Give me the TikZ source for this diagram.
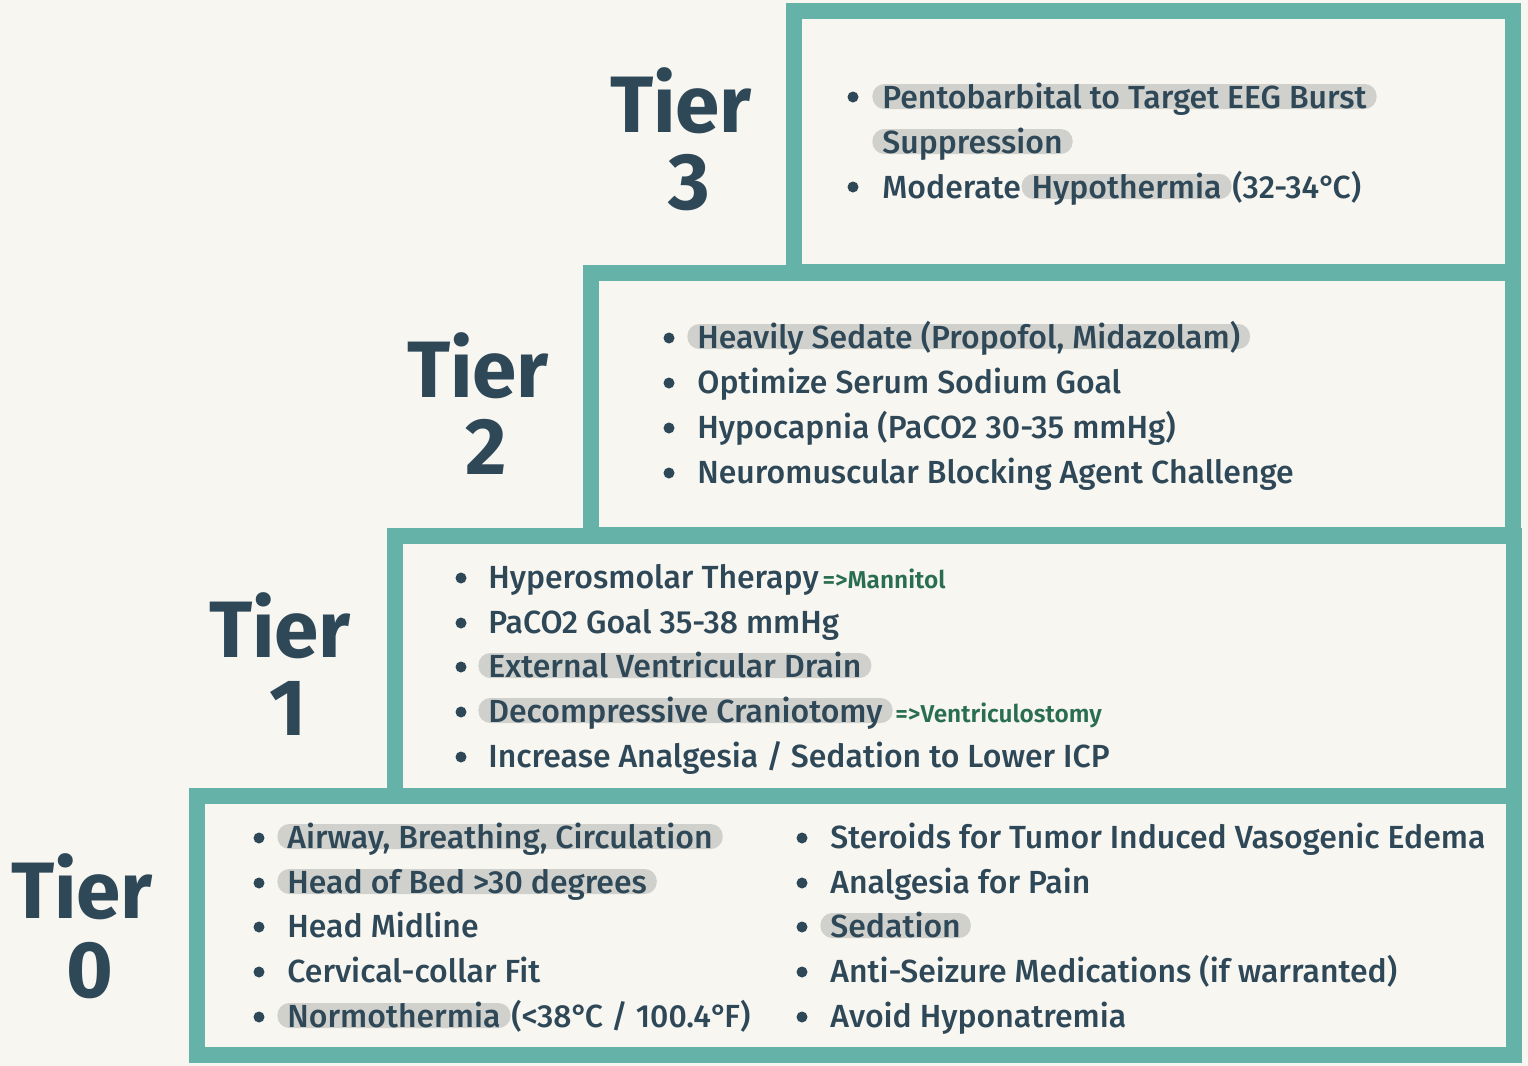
\documentclass[tikz,border=0pt]{standalone}
\usepackage{fontspec}
\setmainfont{Fira Sans}[UprightFont={* Medium}, BoldFont={* SemiBold}]
\newfontfamily\tierfont{Fira Sans}[UprightFont={* Bold}]
\usetikzlibrary{positioning}
\definecolor{tiercol}{RGB}{100,178,168}
\definecolor{inkcol}{RGB}{47,72,88}
\definecolor{papercol}{RGB}{247,246,241}
\definecolor{hlcol}{RGB}{208,208,204}
\definecolor{notecol}{RGB}{42,110,80}
\newcommand{\degr}{°\kern-1.6pt}

\begin{document}
\begin{tikzpicture}[
  x=0.5pt, y=-0.5pt,
  %% stepped tier frames
  tb/.style={draw=tiercol, line width=8pt},
  %% big tier labels
  tl/.style={font=\tierfont\fontsize{40}{40}\selectfont, text=inkcol,
    anchor=base, inner sep=0pt},
  %% list item text
  it/.style={font=\fontsize{16}{19}\selectfont, text=inkcol,
    anchor=base west, inner sep=0pt},
  %% grey pill behind a highlighted phrase
  hl/.style={it, fill=hlcol, rounded corners=6pt,
    text height=11.5pt, text depth=0pt, inner xsep=5pt, inner ysep=0.5pt},
  %% green side note
  nt/.style={font=\bfseries\fontsize{12.2}{14}\selectfont, text=notecol,
    anchor=base west, inner sep=0pt},
  %% bullet dot
  bul/.style={circle, fill=inkcol, inner sep=0pt, minimum size=5.5pt},
]
\useasboundingbox[fill=papercol] (0,0) rectangle (1528,1066);

%%-- Tier frames ---------------------------------------------------------------
\draw[tb] (794,11) rectangle (1513,272);
\draw[tb] (591,273) rectangle (1513,535);
\draw[tb] (395,536) rectangle (1514,796);
\draw[tb] (197,796) rectangle (1514,1055);

%%-- Tier labels ---------------------------------------------------------------
\node[tl] (tier3) at (681,132) {Tier};
\node[tl] (num3)  at (689,209) {3};
\node[tl] (tier2) at (478,397) {Tier};
\node[tl] (num2)  at (486,474) {2};
\node[tl] (tier1) at (280,657) {Tier};
\node[tl] (num1)  at (288,735) {1};
\node[tl] (tier0) at (82,918) {Tier};
\node[tl] (num0)  at (90,997) {0};

%%-- Tier 3 --------------------------------------------------------------------
\foreach \y [count=\i] in {97,187}
  \node[bul] (b3-\i) at (853,\y) {};
\node[hl] (t3-a) at (872,108) {Pentobarbital to Target EEG Burst};
\node[hl] (t3-b) at (872,153) {Suppression};
\node[it] (t3-c) at (882,198) {Moderate};
\node[hl, base right=0pt of t3-c] (t3-d) {Hypothermia};
\node[it, base right=0pt of t3-d] (t3-e) {(32-34\degr C)};

%%-- Tier 2 --------------------------------------------------------------------
\foreach \y [count=\i] in {338,383,428,473}
  \node[bul] (b2-\i) at (669,\y) {};
\node[hl] (t2-a) at (687,348) {Heavily Sedate (Propofol, Midazolam)};
\foreach \n/\y/\t in {b/393/{Optimize Serum Sodium Goal},
                      c/438/{Hypocapnia (PaCO2 30-35 mmHg)},
                      d/483/{Neuromuscular Blocking Agent Challenge}}
  \node[it] (t2-\n) at (697,\y) {\t};

%%-- Tier 1 --------------------------------------------------------------------
\foreach \y [count=\i] in {578,623,667,712,757}
  \node[bul] (b1-\i) at (461,\y) {};
\node[it] (t1-a) at (488,588) {Hyperosmolar Therapy};
\node[nt, base right=1.5pt of t1-a] (n1-a) {=>Mannitol};
\node[it] (t1-b) at (488,633) {PaCO2 Goal 35-38 mmHg};
\node[hl] (t1-c) at (478,677) {External Ventricular Drain};
\node[hl] (t1-d) at (478,722) {Decompressive Craniotomy};
\node[nt, base right=1pt of t1-d] (n1-d) {=>Ventriculostomy};
\node[it] (t1-e) at (488,767) {Increase Analgesia / Sedation to Lower ICP};

%%-- Tier 0 --------------------------------------------------------------------
\foreach \y [count=\i] in {838,883,927,972,1017} {
  \node[bul] (b0l-\i) at (259,\y) {};
  \node[bul] (b0r-\i) at (802,\y) {};
}
\node[hl] (t0-a) at (277,848) {Airway, Breathing, Circulation};
\node[hl] (t0-b) at (277,893) {Head of Bed >30 degrees};
\node[it] (t0-c) at (287,937) {Head Midline};
\node[it] (t0-d) at (287,982) {Cervical-collar Fit};
\node[hl] (t0-e) at (277,1027) {Normothermia};
\node[it, base right=0pt of t0-e] (t0-f) {(<38\degr C / 100.4\degr F)};

\node[it] (t0-g) at (830,848) {Steroids for Tumor Induced Vasogenic Edema};
\node[it] (t0-h) at (830,893) {Analgesia for Pain};
\node[hl] (t0-i) at (820,937) {Sedation};
\node[it] (t0-j) at (830,982) {Anti-Seizure Medications (if warranted)};
\node[it] (t0-k) at (830,1027) {Avoid Hyponatremia};

\end{tikzpicture}
\end{document}
